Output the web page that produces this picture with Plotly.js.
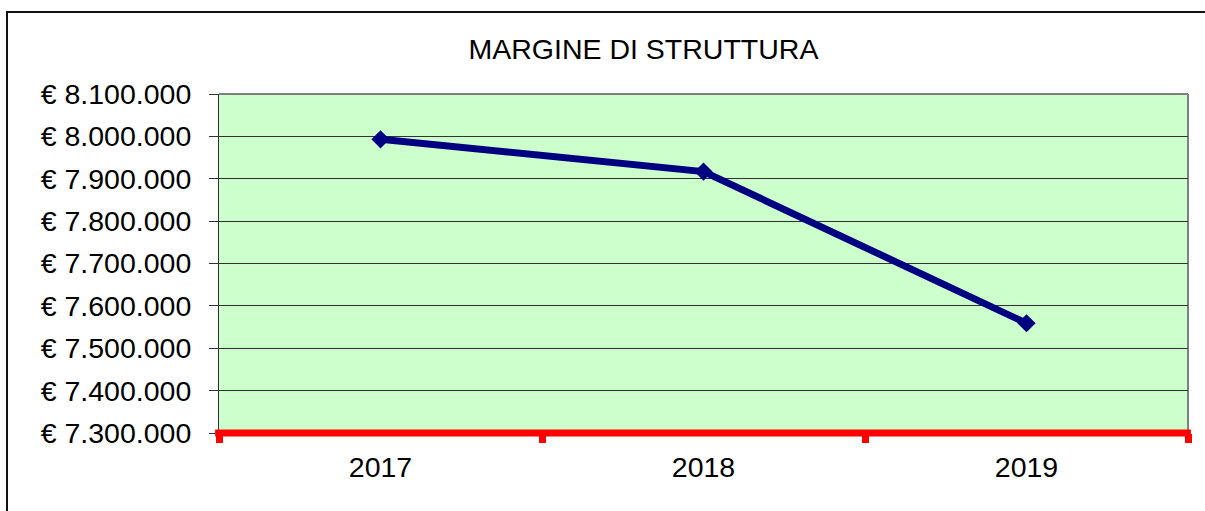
<!DOCTYPE html>
<html>
<head>
<meta charset="utf-8">
<script src="https://cdn.plot.ly/plotly-3.0.1.min.js"></script>
<style>
  html, body { margin: 0; padding: 0; background: #fff; }
  #chart { position: absolute; left: 0; top: 0; width: 1205px; height: 511px; }
  #frame { position: absolute; left: 6px; top: 11px; width: 1300px; height: 600px;
           border: 2px solid #111; pointer-events: none; }
</style>
</head>
<body>
<div id="chart"></div>
<div id="frame"></div>
<script>
const years = ['2017', '2018', '2019'];
const margine = [7993000, 7917000, 7559000];
const yTicks = [7300000, 7400000, 7500000, 7600000, 7700000, 7800000, 7900000, 8000000, 8100000];
const yTickText = yTicks.map(v => '€ ' + String(v).replace(/\B(?=(\d{3})+(?!\d))/g, '.'));

const FONT = 'Liberation Sans, Arial, sans-serif';

const trace = {
  x: years,
  y: margine,
  type: 'scatter',
  mode: 'lines+markers',
  line: { color: '#000080', width: 7 },
  marker: { symbol: 'diamond', size: 14, color: '#000080' },
  hoverinfo: 'skip',
  showlegend: false
};

const layout = {
  width: 1205,
  height: 511,
  margin: { l: 219, r: 17, t: 94, b: 78 },
  paper_bgcolor: 'rgba(0,0,0,0)',
  plot_bgcolor: '#CCFFCC',
  font: { family: FONT, size: 28, color: '#000' },
  title: {
    text: 'MARGINE DI STRUTTURA',
    font: { family: FONT, size: 28.5, color: '#000' },
    xref: 'container', x: 0.534, xanchor: 'center',
    yref: 'container', y: 0.905, yanchor: 'middle'
  },
  xaxis: {
    type: 'category',
    range: [-0.5, 2.5],
    showgrid: false,
    zeroline: false,
    showline: false,
    ticks: 'outside',
    tickson: 'boundaries',
    ticklen: 9,
    tickwidth: 7,
    tickcolor: '#FF0000',
    ticklabelstandoff: 14,
    tickfont: { family: FONT, size: 28.5, color: '#000' }
  },
  yaxis: {
    range: [7300000, 8100000],
    tickmode: 'array',
    tickvals: yTicks,
    ticktext: yTickText,
    showgrid: true,
    gridcolor: '#333333',
    gridwidth: 1,
    zeroline: false,
    showline: true,
    linecolor: '#333333',
    linewidth: 1,
    ticks: 'outside',
    ticklen: 9,
    tickwidth: 1,
    tickcolor: '#333333',
    ticklabelstandoff: 12,
    tickfont: { family: FONT, size: 28.5, color: '#000' }
  },
  shapes: [
    {
      type: 'line', layer: 'between',
      xref: 'paper', yref: 'paper',
      x0: 0, x1: 1, y0: 1, y1: 1,
      line: { color: '#808080', width: 2 }
    },
    {
      type: 'line', layer: 'between',
      xref: 'paper', yref: 'paper',
      x0: 1, x1: 1, y0: 0, y1: 1,
      line: { color: '#808080', width: 2 }
    },
    {
      type: 'line', layer: 'above',
      xref: 'paper', yref: 'paper',
      x0: -0.004, x1: 1.003, y0: 0, y1: 0,
      line: { color: '#FF0000', width: 7 }
    }
  ]
};

Plotly.newPlot('chart', [trace], layout, { displayModeBar: false, staticPlot: true });
</script>
</body>
</html>
